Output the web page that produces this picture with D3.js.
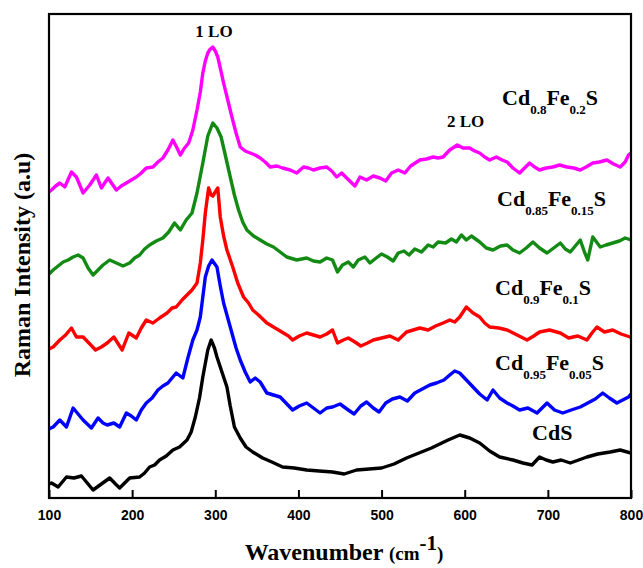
<!DOCTYPE html>
<html><head><meta charset="utf-8">
<script src="https://cdn.jsdelivr.net/npm/d3@7"></script>
<style>html,body{margin:0;padding:0;background:#fff;}</style>
</head><body>
<svg id="chart" width="643" height="568"></svg>
<script>
// Raman spectra: [wavenumber (cm-1), intensity (a.u.)]
const cdS = [[100,14],[103,15],[111,11],[121,21],[130,20],[139,22],[146,15],[153,8],[163,14],[173,20],[180,14],[185,10],[191,15],[197,20],[209,21],[215,25],[221,31],[227,33],[233,38],[241,42],[249,48],[257,51],[266,58],[271,66],[276,81],[281,100],[285,121],[291,148],[295,158],[299,150],[302,141],[308,126],[314,111],[318,92],[323,71],[330,60],[337,51],[345,46],[357,40],[368,36],[381,31],[395,30],[410,28],[425,27],[441,26],[455,24],[470,28],[485,29],[500,30],[515,34],[530,40],[545,45],[560,50],[570,54],[580,58],[594,63],[606,60],[618,55],[630,47],[642,41],[658,38],[670,35],[681,33],[690,41],[698,38],[706,36],[716,38],[727,35],[737,38],[747,41],[760,44],[775,46],[787,48],[800,45]];
const cd95 = [[100,69],[105,71],[113,78],[121,71],[129,90],[135,84],[141,78],[151,70],[159,80],[165,75],[170,73],[178,75],[185,71],[193,85],[199,82],[205,78],[211,88],[217,95],[224,100],[231,108],[237,112],[243,115],[248,120],[253,125],[261,120],[267,140],[273,158],[278,168],[282,181],[288,221],[292,232],[296,238],[302,231],[306,212],[310,195],[315,180],[320,165],[325,150],[330,138],[336,126],[342,116],[348,120],[354,116],[362,105],[370,103],[378,101],[385,95],[393,88],[401,92],[410,95],[418,90],[426,85],[434,90],[441,91],[450,94],[460,88],[467,84],[475,92],[482,96],[490,90],[497,86],[505,95],[513,99],[522,101],[531,97],[540,105],[549,109],[558,113],[566,115],[575,118],[582,123],[588,127],[594,125],[602,118],[610,111],[618,104],[627,98],[634,108],[642,100],[651,95],[658,92],[666,88],[676,90],[687,85],[693,90],[699,95],[708,88],[718,85],[728,88],[739,91],[748,95],[757,99],[766,105],[774,100],[783,95],[790,98],[797,101],[800,104]];
const cd90 = [[100,149],[105,151],[113,158],[120,163],[127,170],[133,161],[141,161],[148,155],[156,148],[163,151],[170,155],[178,161],[188,148],[196,165],[205,160],[211,170],[217,178],[225,175],[233,180],[242,185],[248,190],[253,191],[260,198],[266,203],[272,208],[278,215],[282,235],[285,258],[288,285],[292,310],[295,303],[297,302],[300,306],[303,310],[306,281],[310,262],[314,248],[321,231],[327,215],[334,201],[340,195],[345,188],[352,183],[362,175],[370,171],[376,168],[382,165],[388,162],[393,158],[401,162],[410,165],[418,163],[426,161],[434,164],[441,168],[447,155],[454,158],[460,160],[468,156],[475,152],[483,155],[490,158],[500,160],[510,162],[520,158],[530,166],[538,168],[546,170],[556,168],[565,172],[574,175],[582,178],[588,176],[594,181],[602,191],[610,185],[618,181],[624,175],[630,171],[641,170],[651,168],[663,163],[675,158],[683,162],[690,166],[702,168],[715,165],[725,160],[736,162],[747,158],[753,165],[759,171],[768,166],[778,168],[788,164],[799,161],[800,160]];
const cd85 = [[100,224],[105,228],[111,232],[117,236],[123,238],[129,241],[135,243],[141,240],[147,230],[153,223],[159,228],[165,233],[173,238],[181,235],[189,232],[197,235],[203,240],[209,243],[215,249],[221,253],[229,257],[237,260],[244,266],[251,275],[258,268],[265,278],[272,285],[278,305],[285,335],[291,362],[297,375],[302,370],[307,361],[312,343],[318,321],[323,303],[328,288],[333,276],[338,268],[346,262],[354,258],[362,254],[370,251],[378,246],[386,241],[398,238],[410,240],[418,237],[426,236],[434,240],[441,238],[447,226],[453,233],[460,236],[466,231],[472,238],[480,241],[486,235],[492,239],[500,244],[507,241],[514,237],[520,245],[527,247],[533,243],[540,249],[548,246],[556,253],[562,251],[568,256],[577,255],[584,259],[590,256],[596,263],[602,258],[608,262],[618,256],[626,250],[634,248],[643,252],[651,253],[658,248],[666,245],[674,250],[682,256],[690,250],[699,245],[707,250],[715,255],[721,249],[727,246],[733,252],[739,258],[744,246],[748,238],[754,261],[763,251],[770,253],[778,255],[786,257],[793,260],[800,258]];
const cd80 = [[100,306],[103,308],[108,312],[113,315],[119,311],[127,326],[133,321],[141,305],[149,313],[157,323],[163,310],[171,320],[176,314],[181,308],[187,312],[193,315],[199,318],[205,321],[211,325],[217,330],[225,331],[231,336],[237,340],[243,348],[249,358],[254,350],[258,343],[263,350],[268,355],[273,368],[278,388],[282,406],[285,425],[288,437],[291,445],[294,449],[297,451],[300,447],[303,441],[306,430],[310,415],[315,398],[320,381],[325,365],[330,351],[336,347],[342,345],[348,343],[354,340],[360,336],[366,331],[374,332],[381,330],[390,328],[398,325],[406,331],[412,330],[418,328],[426,330],[434,331],[440,327],[446,321],[452,325],[458,320],[468,312],[474,321],[482,318],[490,322],[498,320],[505,317],[512,325],[520,328],[528,325],[535,332],[546,338],[554,339],[562,341],[568,340],[574,341],[582,348],[591,353],[598,350],[606,350],[612,347],[618,345],[624,341],[630,338],[638,341],[645,338],[651,336],[658,330],[666,325],[672,330],[678,335],[684,331],[690,328],[698,330],[706,331],[714,333],[723,331],[731,330],[739,328],[746,331],[754,335],[762,336],[771,338],[779,334],[787,331],[793,336],[797,343],[800,345]];

const seriesNames = ["CdS","Cd0.95Fe0.05S","Cd0.9Fe0.1S","Cd0.85Fe0.15S","Cd0.8Fe0.2S"];
const seriesData = [cdS, cd95, cd90, cd85, cd80];
const seriesColors = ["#000000","#0000ff","#ff0000","#138a13","#ff00ff"];
const xTicks = [100,200,300,400,500,600,700,800];

const svg = d3.select("#chart");
const M = {left:49, right:631, top:14, bottom:498};
const x = d3.scaleLinear().domain([100,800]).range([M.left, M.right]);
const y = d3.scaleLinear().domain([0,484]).range([M.bottom, M.top]);

svg.append("defs").append("clipPath").attr("id","clip")
  .append("rect").attr("x",M.left).attr("y",M.top).attr("width",M.right-M.left).attr("height",M.bottom-M.top);

const line = d3.line().x(d=>x(d[0])).y(d=>y(d[1])).curve(d3.curveLinear);

const g = svg.append("g").attr("clip-path","url(#clip)");
seriesData.forEach((s,i)=>{
  g.append("path").datum(s).attr("d",line)
    .attr("fill","none").attr("stroke",seriesColors[i])
    .attr("stroke-width",3.4).attr("stroke-linejoin","round").attr("stroke-linecap","round");
});

// frame
svg.append("rect").attr("x",M.left).attr("y",M.top).attr("width",M.right-M.left).attr("height",M.bottom-M.top)
  .attr("fill","none").attr("stroke","#000").attr("stroke-width",2.2);

// bottom axis with inward ticks
const xAxis = d3.axisBottom(x).tickValues(xTicks).tickSizeInner(-8).tickSizeOuter(0).tickPadding(12).tickFormat(d3.format("d"));
const ax = svg.append("g").attr("transform",`translate(0,${M.bottom})`).call(xAxis);
ax.select(".domain").remove();
ax.selectAll(".tick line").attr("stroke","#000").attr("stroke-width",2);
ax.selectAll(".tick text").attr("font-family","'Liberation Sans', Arial, sans-serif")
  .attr("font-weight","bold").attr("font-size","14px").attr("fill","#000");

const serif = "'Liberation Serif','Times New Roman',serif";

// x title
const xt = svg.append("text").attr("x",344).attr("y",560).attr("text-anchor","middle")
  .attr("font-family",serif).attr("font-weight","bold").attr("fill","#000");
xt.append("tspan").attr("font-size","24px").text("Wavenumber ");
xt.append("tspan").attr("font-size","19px").text("(cm");
xt.append("tspan").attr("font-size","21px").attr("dy",-10).text("-1");
xt.append("tspan").attr("font-size","19px").attr("dy",10).text(")");

// y title
svg.append("text").attr("transform","translate(30,265) rotate(-90)").attr("text-anchor","middle")
  .attr("font-family",serif).attr("font-weight","bold").attr("font-size","24px").attr("fill","#000")
  .text("Raman Intensity (a.u)");

// peak labels
svg.append("text").attr("x",214).attr("y",37).attr("text-anchor","middle")
  .attr("font-family",serif).attr("font-weight","bold").attr("font-size","17px").text("1 LO");
svg.append("text").attr("x",447).attr("y",127)
  .attr("font-family",serif).attr("font-weight","bold").attr("font-size","17px").text("2 LO");

// sample labels with subscripts
const labelParts = [
  [["Cd",0],["S",0]],
  [["Cd",0],["0.95",1],["Fe",0],["0.05",1],["S",0]],
  [["Cd",0],["0.9",1],["Fe",0],["0.1",1],["S",0]],
  [["Cd",0],["0.85",1],["Fe",0],["0.15",1],["S",0]],
  [["Cd",0],["0.8",1],["Fe",0],["0.2",1],["S",0]]
];
const labelPos = [[532,440],[495,370],[495,295],[497,206],[502,105]];
labelParts.forEach((parts,i)=>{
  const t = svg.append("text").attr("x",labelPos[i][0]).attr("y",labelPos[i][1])
    .attr("font-family",serif).attr("font-weight","bold").attr("fill","#000");
  let sub = 0;
  parts.forEach(p=>{
    const dy = (p[1]?9:0) - (sub?9:0);
    t.append("tspan").attr("dy",dy).attr("font-size",p[1]?"13px":"22px").text(p[0]);
    sub = p[1];
  });
});
</script>
</body></html>
